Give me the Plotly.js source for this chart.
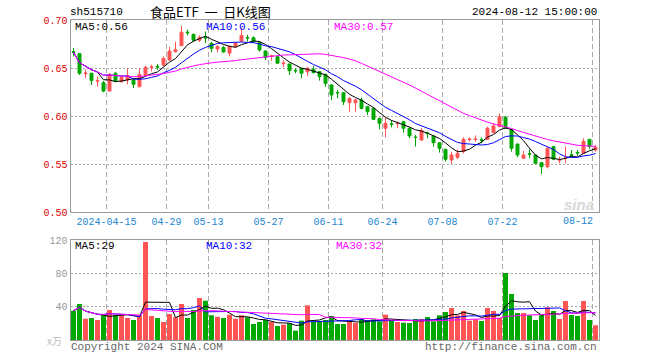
<!DOCTYPE html>
<html><head><meta charset="utf-8">
<script src="https://cdn.plot.ly/plotly-3.0.1.min.js"></script>
<style>html,body{margin:0;padding:0;background:#fff}#c{width:660px;height:360px}</style>
</head><body><div id="c"></div>
<script>
const dates = [
'2024-04-03','2024-04-08','2024-04-09','2024-04-10','2024-04-11','2024-04-12','2024-04-15','2024-04-16','2024-04-17','2024-04-18',
'2024-04-19','2024-04-22','2024-04-23','2024-04-24','2024-04-25','2024-04-26','2024-04-29','2024-04-30','2024-05-06','2024-05-07',
'2024-05-08','2024-05-09','2024-05-10','2024-05-13','2024-05-14','2024-05-15','2024-05-16','2024-05-17','2024-05-20','2024-05-21',
'2024-05-22','2024-05-23','2024-05-24','2024-05-27','2024-05-28','2024-05-29','2024-05-30','2024-05-31','2024-06-03','2024-06-04',
'2024-06-05','2024-06-06','2024-06-07','2024-06-11','2024-06-12','2024-06-13','2024-06-14','2024-06-17','2024-06-18','2024-06-19',
'2024-06-20','2024-06-21','2024-06-24','2024-06-25','2024-06-26','2024-06-27','2024-06-28','2024-07-01','2024-07-02','2024-07-03',
'2024-07-04','2024-07-05','2024-07-08','2024-07-09','2024-07-10','2024-07-11','2024-07-12','2024-07-15','2024-07-16','2024-07-17',
'2024-07-18','2024-07-19','2024-07-22','2024-07-23','2024-07-24','2024-07-25','2024-07-26','2024-07-29','2024-07-30','2024-07-31',
'2024-08-01','2024-08-02','2024-08-05','2024-08-06','2024-08-07','2024-08-08','2024-08-09','2024-08-12'];

const openP = [
0.6670,0.6650,0.6440,0.6445,0.6362,0.6347,0.6260,0.6445,0.6357,0.6375,
0.6375,0.6305,0.6427,0.6505,0.6517,0.6531,0.6583,0.6670,0.6732,0.6873,
0.6850,0.6790,0.6818,0.6757,0.6698,0.6713,0.6655,0.6720,0.6780,0.6818,
0.6815,0.6765,0.6677,0.6620,0.6618,0.6545,0.6542,0.6475,0.6497,0.6462,
0.6486,0.6462,0.6434,0.6323,0.6245,0.6243,0.6139,0.6139,0.6167,0.6097,
0.6080,0.5976,0.5872,0.5918,0.5920,0.5941,0.5872,0.5780,0.5750,0.5823,
0.5792,0.5722,0.5653,0.5542,0.5570,0.5628,0.5754,0.5754,0.5753,0.5757,
0.5826,0.5889,0.5986,0.5861,0.5708,0.5560,0.5607,0.5594,0.5514,0.5472,
0.5681,0.5539,0.5557,0.5597,0.5621,0.5611,0.5757,0.5646];

const highP = [
0.6708,0.6655,0.6486,0.6450,0.6410,0.6365,0.6445,0.6460,0.6425,0.6497,
0.6390,0.6497,0.6525,0.6535,0.6540,0.6620,0.6720,0.6774,0.6940,0.6900,
0.6860,0.6840,0.6880,0.6770,0.6740,0.6730,0.6735,0.6770,0.6920,0.6845,
0.6830,0.6775,0.6680,0.6638,0.6625,0.6580,0.6545,0.6497,0.6500,0.6510,
0.6521,0.6465,0.6440,0.6330,0.6271,0.6250,0.6194,0.6180,0.6194,0.6100,
0.6085,0.5980,0.5986,0.5958,0.5940,0.5950,0.5880,0.5802,0.5872,0.5837,
0.5795,0.5725,0.5655,0.5628,0.5653,0.5778,0.5778,0.5798,0.5778,0.5889,
0.5924,0.6028,0.6000,0.5865,0.5710,0.5639,0.5653,0.5598,0.5520,0.5674,
0.5685,0.5576,0.5681,0.5646,0.5646,0.5768,0.5760,0.5698];

const lowP = [
0.6622,0.6427,0.6393,0.6323,0.6305,0.6247,0.6255,0.6350,0.6350,0.6330,
0.6290,0.6300,0.6420,0.6465,0.6480,0.6520,0.6580,0.6660,0.6730,0.6840,
0.6770,0.6770,0.6760,0.6664,0.6663,0.6660,0.6620,0.6710,0.6770,0.6775,
0.6760,0.6670,0.6583,0.6576,0.6540,0.6507,0.6427,0.6445,0.6393,0.6417,
0.6445,0.6368,0.6305,0.6167,0.6184,0.6115,0.6045,0.6045,0.6070,0.6010,
0.5960,0.5861,0.5778,0.5882,0.5872,0.5826,0.5768,0.5681,0.5745,0.5768,
0.5681,0.5618,0.5524,0.5500,0.5549,0.5611,0.5733,0.5733,0.5715,0.5750,
0.5820,0.5885,0.5865,0.5628,0.5570,0.5553,0.5560,0.5500,0.5396,0.5455,
0.5540,0.5507,0.5507,0.5570,0.5584,0.5610,0.5653,0.5629];

const closeP = [
0.6664,0.6445,0.6447,0.6370,0.6368,0.6260,0.6434,0.6360,0.6400,0.6420,
0.6330,0.6434,0.6507,0.6511,0.6511,0.6600,0.6677,0.6690,0.6872,0.6867,
0.6790,0.6820,0.6812,0.6705,0.6723,0.6667,0.6724,0.6760,0.6840,0.6812,
0.6775,0.6688,0.6610,0.6628,0.6550,0.6550,0.6472,0.6470,0.6445,0.6497,
0.6451,0.6410,0.6340,0.6219,0.6241,0.6149,0.6184,0.6167,0.6079,0.6045,
0.5965,0.5924,0.5924,0.5912,0.5926,0.5872,0.5792,0.5776,0.5850,0.5817,
0.5722,0.5663,0.5549,0.5594,0.5611,0.5757,0.5760,0.5760,0.5747,0.5872,
0.5896,0.5993,0.5872,0.5663,0.5594,0.5594,0.5601,0.5507,0.5472,0.5663,
0.5549,0.5545,0.5563,0.5591,0.5615,0.5736,0.5681,0.5674];

const volume = [
35.2,43.2,25.6,26.4,24,29.6,36,29.6,29.6,26.4,
24,29.6,117.6,28.8,26.4,21.6,31.2,27.2,43.2,26.4,
36,50.4,47.2,29.6,28,26.4,30.4,25.6,29.6,27.2,
19.2,21.6,24,21.6,16.8,18.4,20,11.2,23.2,41.6,
21.6,22.4,24,28.8,19.2,19.2,22.4,20.4,25.6,24,
24.8,22.4,30.4,24,21.6,20.8,20.4,25.2,25.2,27.6,
22.4,29.6,33.6,38.4,29.6,34.8,23.2,24.8,22.8,38.4,
34.8,26.4,80.4,55.2,32.4,32.4,29.6,24,31.2,39.2,
34.8,25.2,46.8,30,28.8,46.8,24,17.6];

const tickDates  = ['2024-04-15','2024-04-29','2024-05-13','2024-05-27','2024-06-11','2024-06-24','2024-07-08','2024-07-22','2024-08-12'];
const tickLabels = ['2024-04-15','04-29','05-13','05-27','06-11','06-24','07-08','07-22','08-12'];
const priceTicks = [0.50,0.55,0.60,0.65,0.70];
const priceTickText = ['0.50','0.55','0.60','0.65','0.70'];
const volTicks = [40,80,120];
const volTickText = ['40','80','120'];

const RED = 'rgb(255,84,84)', GREEN = 'rgb(0,168,0)';
const MONO = 'Liberation Mono, DejaVu Sans Mono, monospace';
const TICKBLUE = '#1c86d1';

function ma(arr, n){
  return arr.map((_, i) => {
    const s = Math.max(0, i - n + 1); let t = 0;
    for (let k = s; k <= i; k++) t += arr[k];
    return t / (i - s + 1);
  });
}
const idx = dates.map((d, i) => i);
const tickPos = tickDates.map(d => dates.indexOf(d) - 0.5);
const lastTick = tickLabels.length - 1;
// the last label sits left of its gridline (kept inside the frame), drawn as an annotation
const tickText = tickLabels.map((t, i) => i === lastTick ? '' : t);
const volColors = closeP.map((c, i) => c >= openP[i] ? RED : GREEN);

const traces = [
  {type:'candlestick', x: idx, open: openP, high: highP, low: lowP, close: closeP,
   xaxis:'x', yaxis:'y', whiskerwidth:0,
   increasing:{line:{color:RED, width:1}, fillcolor:RED},
   decreasing:{line:{color:GREEN, width:1}, fillcolor:GREEN}, hoverinfo:'skip'},
  {type:'scatter', mode:'lines', x: idx, y: ma(closeP,5), line:{color:'#000', width:1}, xaxis:'x', yaxis:'y'},
  {type:'scatter', mode:'lines', x: idx, y: ma(closeP,10), line:{color:'#0000ff', width:1}, xaxis:'x', yaxis:'y'},
  {type:'scatter', mode:'lines', x: idx, y: ma(closeP,30), line:{color:'#ff00ff', width:1}, xaxis:'x', yaxis:'y'},
  {type:'bar', x: idx, y: volume, marker:{color: volColors, line:{width:0}}, xaxis:'x2', yaxis:'y2'},
  {type:'scatter', mode:'lines', x: idx, y: ma(volume,5), line:{color:'#000', width:1}, xaxis:'x2', yaxis:'y2'},
  {type:'scatter', mode:'lines', x: idx, y: ma(volume,10), line:{color:'#0000ff', width:1}, xaxis:'x2', yaxis:'y2'},
  {type:'scatter', mode:'lines', x: idx, y: ma(volume,30), line:{color:'#ff00ff', width:1}, xaxis:'x2', yaxis:'y2'}
];

const W = 660, H = 360;
const px = x => x / W, py = y => 1 - y / H;
const xdom = [px(70.5), px(598.5)];

function ann(text, x, y, color, xanchor, size, family){
  return {text, x: px(x), y: py(y), xref:'paper', yref:'paper', xanchor: xanchor || 'left', yanchor:'middle',
    showarrow:false, font:{color, size: size || 10, family: family || MONO}};
}

const baseX = {domain: xdom, range:[-0.5, 87.5], tickvals: tickPos, ticktext: tickText, showgrid:true,
  gridcolor:'#aaaaaa', griddash:'5px,3px', gridwidth:1, showline:true, mirror:true, linecolor:'#999999', linewidth:1,
  zeroline:false, ticks:'', fixedrange:true};

const layout = {
  width: W, height: H, margin:{l:0, r:0, t:0, b:0}, paper_bgcolor:'#fff', plot_bgcolor:'#fff',
  showlegend:false, bargap:0.17, font:{family: MONO, size:10},
  xaxis: Object.assign({}, baseX, {anchor:'y', rangeslider:{visible:false}, tickfont:{color:TICKBLUE, size:10, family:MONO}}),
  xaxis2: Object.assign({}, baseX, {anchor:'y2', showticklabels:false}),
  yaxis: {domain:[py(212), py(20)], range:[0.5, 0.7], tickvals: priceTicks, ticktext: priceTickText,
    showgrid:true, gridcolor:'#aaaaaa', griddash:'2px,2px', showline:true, mirror:true, linecolor:'#999999',
    zeroline:false, ticks:'', tickfont:{color:'#e00000', size:10, family:MONO}, fixedrange:true},
  yaxis2: {domain:[py(340), py(240)], range:[0, 120], tickvals: volTicks, ticktext: volTickText,
    showgrid:true, gridcolor:'#aaaaaa', griddash:'2px,2px', showline:true, mirror:true, linecolor:'#999999',
    zeroline:false, ticks:'', tickfont:{color:'#999999', size:10, family:MONO}, fixedrange:true},
  annotations: [
    ann('sh515710', 68, 12, '#000', 'left', 11),
    ann('食品ETF\u00a0\u00a0一\u00a0\u00a0日K线图', 210, 12, '#000', 'center', 13, 'Noto Sans CJK SC'),
    ann('2024-08-12 15:00:00', 599, 12, '#000', 'right', 11),
    ann('MA5:0.56', 73, 27, '#000', 'left', 11),
    ann('MA10:0.56', 204, 27, '#0000ff', 'left', 11),
    ann('MA30:0.57', 332, 27, '#ff00ff', 'left', 11),
    ann('MA5:29', 73, 246, '#000', 'left', 11),
    ann('MA10:32', 204, 246, '#0000ff', 'left', 11),
    ann('MA30:32', 334, 246, '#ff00ff', 'left', 11),
    ann(tickLabels[lastTick], 578, 221, TICKBLUE, 'center', 10),
    ann('x万', 64, 340, '#bbbbbb', 'right', 10, 'Noto Sans CJK SC'),
    ann('Copyright 2024 SINA.COM', 69, 347, '#666666', 'left', 11),
    ann('http://finance.sina.com.cn', 599, 347, '#666666', 'right', 11),
    ann('<b><i>sina</i></b>', 596, 204, '#d8d8d8', 'right', 15, 'Liberation Sans')
  ]
};

Plotly.newPlot('c', traces, layout, {staticPlot:true, displayModeBar:false});
</script></body></html>
